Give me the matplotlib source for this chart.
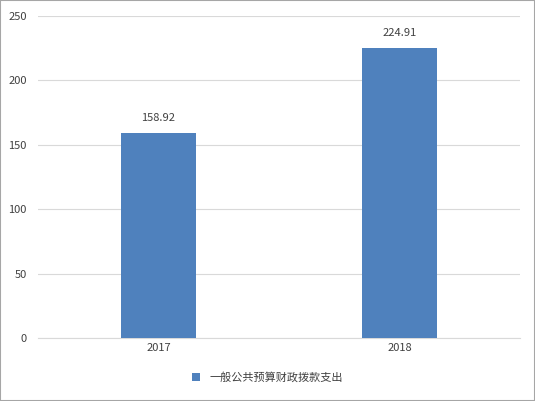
import matplotlib
matplotlib.use("Agg")
import matplotlib.pyplot as plt
from matplotlib.patches import Rectangle

plt.rcParams['font.family'] = ['Noto Sans CJK SC', 'DejaVu Sans']

years = ["2017", "2018"]
values = [158.92, 224.91]
series_name = "一般公共预算财政拨款支出"

fig = plt.figure(figsize=(5.35, 4.01), dpi=100)
ax = fig.add_axes([0.071, 0.157, 0.901, 0.803])

x = range(len(years))
bars = ax.bar(x, values, width=0.31, color="#4F81BD", label=series_name, zorder=3)
for b, v in zip(bars, values):
    ax.text(b.get_x() + b.get_width() / 2, v + 8, f"{v:.2f}",
            ha="center", va="bottom", fontsize=8, color="#404040")

ax.set_xlim(-0.5, 1.5)
ax.set_ylim(0, 250)
ax.set_yticks(range(0, 251, 50))
ax.set_xticks(list(x))
ax.set_xticklabels(years)
ax.tick_params(axis="both", length=0, labelsize=8, colors="#404040")
ax.tick_params(axis="y", pad=8)
ax.grid(axis="y", color="#D9D9D9", linewidth=0.8, zorder=0)
for s in ["top", "right", "left"]:
    ax.spines[s].set_visible(False)
ax.spines["bottom"].set_color("#D9D9D9")

fig.legend(loc="lower center", bbox_to_anchor=(0.5, 0.02), frameon=False,
           fontsize=8, handlelength=0.7, handleheight=0.7, labelcolor="#404040")

fig.patches.append(Rectangle((0, 0), 1, 1, transform=fig.transFigure,
                             fill=False, edgecolor="#A6A6A6", linewidth=1.5))

fig.savefig("out.png", dpi=100)
